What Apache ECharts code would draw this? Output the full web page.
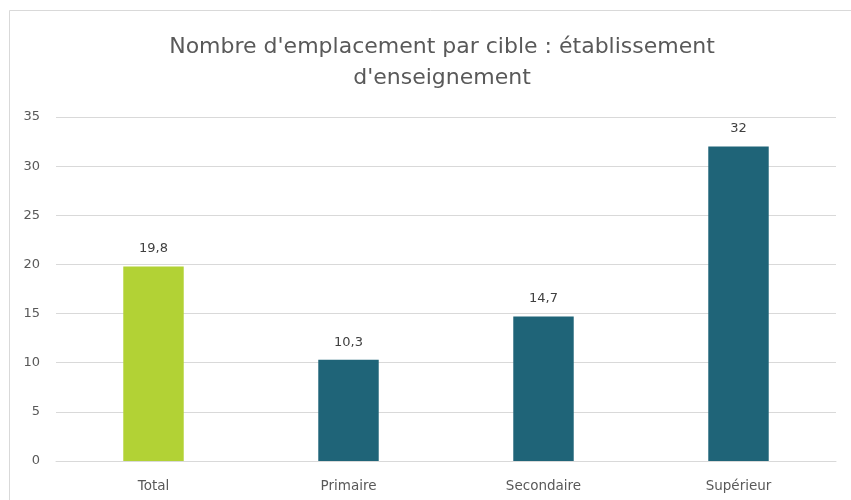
<!DOCTYPE html>
<html>
<head>
<meta charset="utf-8">
<script src="https://cdn.jsdelivr.net/npm/echarts@6/dist/echarts.min.js"></script>
<style>
  html, body { margin: 0; padding: 0; background: #fff; }
  #chart { width: 851px; height: 500px; }
</style>
</head>
<body>
<div id="chart"></div>
<script>
// données
const categories = ['Total', 'Primaire', 'Secondaire', 'Supérieur']
const values = [19.8, 10.3, 14.7, 32]
const barColors = ['#b2d235', '#1f6478', '#1f6478', '#1f6478']

const myChart = echarts.init(document.getElementById('chart'))

const option = {
  backgroundColor: '#fff',
  textStyle: { fontFamily: 'DejaVu Sans' },
  title: {
    text: "Nombre d'emplacement par cible : établissement\nd'enseignement",
    left: 437,
    top: 27,
    textAlign: 'center',
    textStyle: {
      color: '#595959',
      fontSize: 22,
      fontWeight: 'normal',
      lineHeight: 31,
      fontFamily: 'DejaVu Sans'
    }
  },
  // cadre du graphique (haut + gauche)
  graphic: [{
    type: 'line',
    shape: { x1: 9.5, y1: 10.5, x2: 851, y2: 10.5 },
    style: { stroke: '#d9d9d9', lineWidth: 1 },
    z: -1
  }, {
    type: 'line',
    shape: { x1: 9.5, y1: 10.5, x2: 9.5, y2: 500 },
    style: { stroke: '#d9d9d9', lineWidth: 1 },
    z: -1
  }],
  grid: {
    left: 56,
    right: 15,
    top: 117,
    bottom: 39
  },
  xAxis: {
    type: 'category',
    data: categories,
    axisLine: { lineStyle: { color: '#d9d9d9' } },
    axisTick: { show: false },
    axisLabel: { color: '#595959', fontSize: 13.5, margin: 18 }
  },
  yAxis: {
    type: 'value',
    min: 0,
    max: 35,
    interval: 5,
    axisLine: { show: false },
    axisTick: { show: false },
    axisLabel: { color: '#595959', fontSize: 13, margin: 16 },
    splitLine: { lineStyle: { color: '#d9d9d9' } }
  },
  series: [{
    type: 'bar',
    barWidth: '31%',
    data: values.map((v, i) => ({ value: v, itemStyle: { color: barColors[i] } })),
    label: {
      show: true,
      position: 'top',
      distance: 11,
      color: '#404040',
      fontSize: 13,
      formatter: p => String(p.value).replace('.', ',')
    }
  }]
}
myChart.setOption(option)
</script>
</body>
</html>
